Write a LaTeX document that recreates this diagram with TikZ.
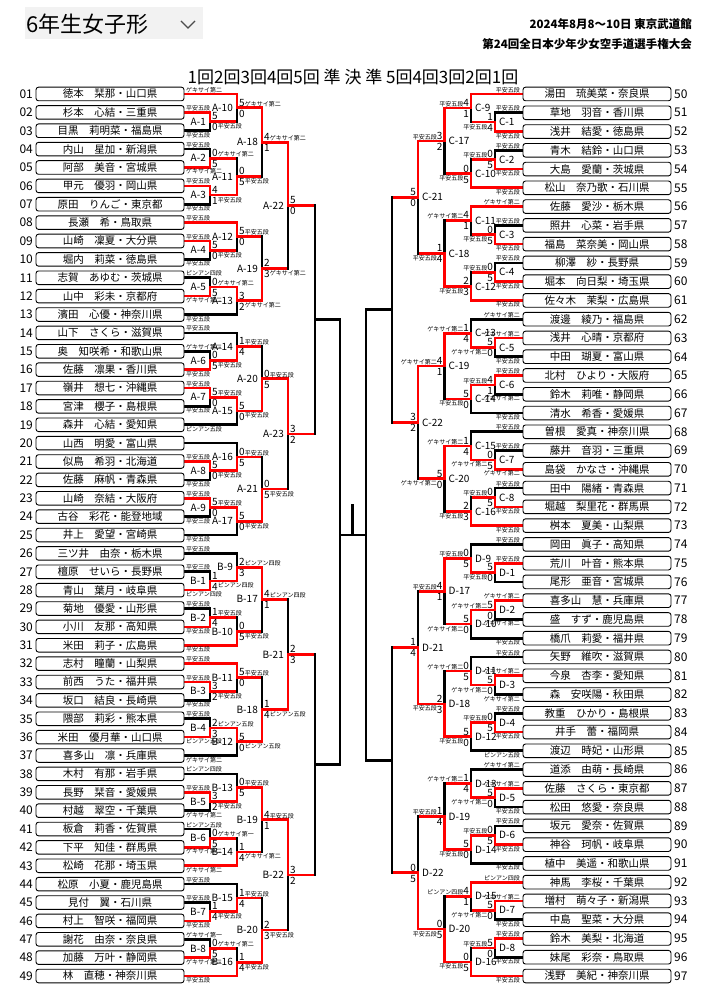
\documentclass[tikz,border=0pt]{standalone}
\usepackage{fontspec}
\setmainfont{Noto Sans CJK JP}
\usetikzlibrary{calc}
\pgfdeclarelayer{bg}
\pgfsetlayers{bg,main}

\newcommand\nmf{\fontsize{10.5}{12}\selectfont}
\newcommand\nuf{\fontsize{12}{14}\selectfont}
\newcommand\scf{\fontsize{10}{11}\selectfont}
\newcommand\ktf{\fontsize{6}{7}\selectfont}
\newcommand\ka[1]{{\ktf #1}}
\newcommand\kb[1]{\raisebox{2.3pt}{\ktf #1}}

\def\firstof#1#2\relax{#1}
\long\def\takefirst#1#2{#1}
\long\def\takesecond#1#2{#2}
\newcommand\isentry[1]{\edef\tmpa{\expandafter\firstof#1\relax}%
  \if e\tmpa\expandafter\takefirst\else\expandafter\takesecond\fi}
\def\bside{l}

% #1 id, #2 shown name, #3 round, #4 upper, #5 lower, #6 winner, #7 upper score, #8 lower score
\newcommand\bout[8]{%
  \edef\thisc{c\bside#3}%
  \edef\nextc{c\bside\the\numexpr#3+1\relax}%
  \path ($(#4)!0.5!(#5)$) coordinate (h#1);
  \coordinate (#1) at (\thisc |- h#1);
  \coordinate (#1o) at (\nextc |- h#1);
  \if u#6\def\bwin{#4}\def\blos{#5}\else\def\bwin{#5}\def\blos{#4}\fi
  \begin{pgfonlayer}{bg}
    \isentry\blos{\draw[lose] (\blos) -- (\thisc |- \blos) -- (#1);}%
      {\draw[lose] (\thisc |- \blos) -- (#1);}%
    \isentry\bwin{\draw[win] (\bwin) -- (\thisc |- \bwin) -- (#1) -- (#1o);}%
      {\draw[win] (\thisc |- \bwin) -- (#1) -- (#1o);}%
  \end{pgfonlayer}
  \node[scu] (#1a) at (#1) {#7};
  \node[scd] (#1b) at (#1) {#8};
  \node[bname] (#1n) at (#1) {#2};
}

\begin{document}
\begin{tikzpicture}[x=1pt, y=-1pt,
  win/.style={draw=red, line width=2.7pt, line cap=rect, line join=miter},
  lose/.style={draw=black, line width=2.7pt, line cap=rect, line join=miter},
  nbox/.style={draw, rounded corners=2.5pt, line width=0.9pt, fill=white,
    minimum width=148pt, minimum height=13.6pt, inner sep=0pt, font=\nmf},
  numl/.style={anchor=east, inner sep=0pt, font=\nuf, xshift=-2.5pt},
  numr/.style={anchor=west, inner sep=0pt, font=\nuf, xshift=2.5pt}]

\useasboundingbox (0,0) rectangle (707,1000);

% header
\fill[black!5] (25,7) rectangle (203,39);
\node[anchor=west, inner sep=0pt, font=\fontsize{22}{26}\selectfont] (title) at (26,24) {6年生女子形};
\draw[line width=1.2pt, black!70] (181,21) -- (188,28) -- (195,21);
\node[anchor=east, inner sep=0pt, font=\bfseries\fontsize{11.5}{13}\selectfont] (date) at (692,24) {2024年8月8～10日 東京武道館};
\node[anchor=east, inner sep=0pt, font=\bfseries\fontsize{11.5}{13}\selectfont] (meet) at (692,44) {第24回全日本少年少女空手道選手権大会};
\node[inner sep=0pt, font=\fontsize{17}{19}\selectfont] (rounds) at (353,77) {1回2回3回4回5回 準 決 準 5回4回3回2回1回};

\foreach \x [count=\c] in {210,237,262,288,315,340}
  \coordinate (cl\c) at (\x,0);
\foreach \x [count=\c] in {495,471,444.5,418,392,366}
  \coordinate (cr\c) at (\x,0);

% left side
\tikzset{kla/.style={anchor=base west, inner sep=0pt, font=\ktf, xshift=1.5pt, yshift=1.9pt},
  klb/.style={anchor=base west, inner sep=0pt, font=\ktf, xshift=1.5pt, yshift=-6.5pt},
  scu/.style={anchor=base west, inner sep=0pt, font=\scf, xshift=2pt, yshift=1.7pt},
  scd/.style={anchor=base west, inner sep=0pt, font=\scf, xshift=2pt, yshift=-9.3pt},
  bname/.style={anchor=east, inner sep=0pt, font=\scf, xshift=-4pt}}

\foreach \nb/\nm/\kt/\ks [count=\i] in {
  01/徳本　栞那・山口県/ゲキサイ第二/a, 02/杉本　心結・三重県/平安五段/a,
  03/目黒　莉明菜・福島県/平安五段/b, 04/内山　星加・新潟県/平安五段/a,
  05/阿部　美音・宮城県/ゲキサイ第二/b, 06/甲元　優羽・岡山県/平安五段/a,
  07/原田　りんご・東京都/平安五段/b, 08/長瀬　希・鳥取県/平安五段/a,
  09/山崎　凜夏・大分県/平安五段/a, 10/堀内　莉菜・徳島県/平安五段/b,
  11/志賀　あゆむ・茨城県/ピンアン四段/a, 12/山中　彩未・京都府/ゲキサイ第二/b,
  13/濱田　心優・神奈川県/平安五段/b, 14/山下　さくら・滋賀県/平安五段/a,
  15/奥　知咲希・和歌山県/ゲキサイ第二/a, 16/佐藤　凛果・香川県/平安五段/b,
  17/嶺井　想七・沖縄県/平安五段/a, 18/宮津　櫻子・島根県/平安五段/b,
  19/森井　心結・愛知県/ピンアン五段/b, 20/山西　明愛・富山県/-/n,
  21/似鳥　希羽・北海道/平安五段/a, 22/佐藤　麻帆・青森県/平安五段/b,
  23/山崎　奈結・大阪府/平安五段/a, 24/古谷　彩花・能登地域/平安三段/b,
  25/井上　愛望・宮崎県/平安五段/b, 26/三ツ井　由奈・栃木県/平安五段/a,
  27/檀原　せいら・長野県/平安三段/a, 28/青山　葉月・岐阜県/ピンアン四段/b,
  29/菊地　優愛・山形県/平安五段/a, 30/小川　友那・高知県/平安五段/b,
  31/米田　莉子・広島県/平安五段/b, 32/志村　瞳蘭・山梨県/平安五段/a,
  33/前西　うた・福井県/平安五段/a, 34/坂口　結良・長崎県/平安五段/b,
  35/隈部　莉彩・熊本県/平安五段/a, 36/米田　優月華・山口県/ピンアン五段/b,
  37/喜多山　凛・兵庫県/ゲキサイ第二/b, 38/木村　有那・岩手県/ピンアン四段/a,
  39/長野　栞音・愛媛県/平安五段/a, 40/村越　翠空・千葉県/ゲキサイ第二/b,
  41/板倉　莉香・佐賀県/ピンアン五段/a, 42/下平　知佳・群馬県/ゲキサイ第二/b,
  43/松崎　花那・埼玉県/ゲキサイ第二/b, 44/松原　小夏・鹿児島県/平安五段/a,
  45/見付　翼・石川県/平安五段/a, 46/村上　智咲・福岡県/平安五段/b,
  47/謝花　由奈・奈良県/ゲキサイ第一/a, 48/加藤　万叶・静岡県/ゲキサイ第二/b,
  49/林　直穂・神奈川県/平安五段/b}{
  \node[nbox] (p\i) at (110,{94+(\i-1)*18.375}) {\nm};
  \node[numl] (n\i) at (p\i.west) {\nb};
  \coordinate (e\i) at (p\i.east);
  \if a\ks \node[kla] (k\i) at (e\i) {\kt};\fi
  \if b\ks \node[klb] (k\i) at (e\i) {\kt};\fi
}

\bout{A1}{A-1}{1}{e2}{e3}{u}{5}{0\kb{平安五段}}
\bout{A2}{A-2}{1}{e4}{e5}{d}{0\ka{ゲキサイ第二}}{5}
\bout{A3}{A-3}{1}{e6}{e7}{u}{4}{1\kb{平安五段}}
\bout{A4}{A-4}{1}{e9}{e10}{u}{5}{0\kb{平安五段}}
\bout{A5}{A-5}{1}{e11}{e12}{d}{0\ka{ゲキサイ第二}}{5}
\bout{A6}{A-6}{1}{e15}{e16}{d}{0}{5\kb{平安五段}}
\bout{A7}{A-7}{1}{e17}{e18}{u}{5\ka{平安五段}}{0}
\bout{A8}{A-8}{1}{e21}{e22}{u}{5}{0\kb{平安五段}}
\bout{A9}{A-9}{1}{e23}{e24}{u}{5\ka{平安五段}}{0}
\bout{A10}{A-10}{2}{e1}{A1}{u}{5\ka{ゲキサイ第二}}{0}
\bout{A11}{A-11}{2}{A2}{A3}{d}{0}{5\kb{平安五段}}
\bout{A12}{A-12}{2}{e8}{A4}{u}{5\ka{平安五段}}{0}
\bout{A13}{A-13}{2}{A5}{e13}{u}{3}{2\kb{ゲキサイ第二}}
\bout{A14}{A-14}{2}{e14}{A6}{d}{1\ka{平安五段}}{4}
\bout{A15}{A-15}{2}{A7}{e19}{u}{5}{0\kb{平安五段}}
\bout{A16}{A-16}{2}{e20}{A8}{d}{0\ka{平安五段}}{5}
\bout{A17}{A-17}{2}{A9}{e25}{u}{5}{0\kb{平安五段}}
\bout{A18}{A-18}{3}{A10}{A11}{u}{4\ka{ゲキサイ第二}}{1}
\bout{A19}{A-19}{3}{A12}{A13}{d}{2}{3\kb{ゲキサイ第二}}
\bout{A20}{A-20}{3}{A14}{A15}{d}{0\ka{平安五段}}{5}
\bout{A21}{A-21}{3}{A16}{A17}{d}{0}{5\kb{平安五段}}
\bout{A22}{A-22}{4}{A18}{A19}{u}{5}{0}
\bout{A23}{A-23}{4}{A20}{A21}{u}{3}{2}

\bout{B1}{B-1}{1}{e27}{e28}{d}{1}{4\kb{ピンアン四段}}
\bout{B2}{B-2}{1}{e29}{e30}{d}{1\ka{平安五段}}{4}
\bout{B3}{B-3}{1}{e33}{e34}{u}{3}{2\kb{平安五段}}
\bout{B4}{B-4}{1}{e35}{e36}{d}{2\ka{ピンアン五段}}{3}
\bout{B5}{B-5}{1}{e39}{e40}{u}{3}{2\kb{平安五段}}
\bout{B6}{B-6}{1}{e41}{e42}{d}{0\ka{ゲキサイ第一}}{5}
\bout{B7}{B-7}{1}{e45}{e46}{d}{1}{4\kb{平安五段}}
\bout{B8}{B-8}{1}{e47}{e48}{d}{0\ka{ゲキサイ第二}}{5}
\bout{B9}{B-9}{2}{e26}{B1}{d}{2\ka{ピンアン四段}}{3}
\bout{B10}{B-10}{2}{B2}{e31}{d}{0}{5\kb{平安五段}}
\bout{B11}{B-11}{2}{e32}{B3}{u}{5\ka{平安五段}}{0}
\bout{B12}{B-12}{2}{B4}{e37}{u}{5}{0\kb{ピンアン五段}}
\bout{B13}{B-13}{2}{e38}{B5}{d}{0\ka{平安五段}}{5}
\bout{B14}{B-14}{2}{B6}{e43}{d}{1}{4\kb{ゲキサイ第二}}
\bout{B15}{B-15}{2}{e44}{B7}{d}{1\ka{平安五段}}{4}
\bout{B16}{B-16}{2}{B8}{e49}{d}{1}{4\kb{平安五段}}
\bout{B17}{B-17}{3}{B9}{B10}{u}{4\ka{ピンアン四段}}{1}
\bout{B18}{B-18}{3}{B11}{B12}{d}{1}{4\kb{ピンアン五段}}
\bout{B19}{B-19}{3}{B13}{B14}{u}{4\ka{平安五段}}{1}
\bout{B20}{B-20}{3}{B15}{B16}{d}{2}{3\kb{平安五段}}
\bout{B21}{B-21}{4}{B17}{B18}{d}{2}{3}
\bout{B22}{B-22}{4}{B19}{B20}{u}{3}{2}

% right side
\def\bside{r}
\tikzset{kla/.style={anchor=base east, inner sep=0pt, font=\ktf, xshift=-2.5pt, yshift=1.9pt},
  klb/.style={anchor=base east, inner sep=0pt, font=\ktf, xshift=-2.5pt, yshift=-6.5pt},
  scu/.style={anchor=base east, inner sep=0pt, font=\scf, xshift=-2pt, yshift=1.7pt},
  scd/.style={anchor=base east, inner sep=0pt, font=\scf, xshift=-2pt, yshift=-9.3pt},
  bname/.style={anchor=west, inner sep=0pt, font=\scf, xshift=4pt}}

\foreach \nb/\nm/\kt/\ks [count=\i from 50] in {
  50/湯田　琉美菜・奈良県/平安五段/a, 51/草地　羽音・香川県/平安五段/a,
  52/浅井　結愛・徳島県/平安五段/b, 53/青木　結鈴・山口県/平安五段/a,
  54/大島　愛蘭・茨城県/平安五段/b, 55/松山　奈乃歌・石川県/平安五段/b,
  56/佐藤　愛沙・栃木県/ゲキサイ第二/a, 57/照井　心菜・岩手県/平安五段/a,
  58/福島　菜奈美・岡山県/平安五段/b, 59/柳澤　紗・長野県/平安五段/a,
  60/堀本　向日梨・埼玉県/平安五段/b, 61/佐々木　茉梨・広島県/平安五段/b,
  62/渡邊　綾乃・福島県/ゲキサイ第二/a, 63/浅井　心晴・京都府/ゲキサイ第二/a,
  64/中田　瑚夏・富山県/平安五段/b, 65/北村　ひより・大阪府/平安五段/a,
  66/鈴木　莉唯・静岡県/ゲキサイ第二/b, 67/清水　希香・愛媛県/平安五段/b,
  68/曽根　愛真・神奈川県/平安五段/a, 69/藤井　音羽・三重県/平安五段/a,
  70/島袋　かなさ・沖縄県/ゲキサイ第二/b, 71/田中　陽緒・青森県/平安五段/a,
  72/堀越　梨里花・群馬県/平安五段/b, 73/桝本　夏美・山梨県/平安五段/b,
  74/岡田　眞子・高知県/平安五段/a, 75/荒川　叶音・熊本県/平安五段/a,
  76/尾形　亜音・宮城県/-/n, 77/喜多山　慧・兵庫県/ゲキサイ第二/a,
  78/盛　すず・鹿児島県/ゲキサイ第二/b, 79/橋爪　莉愛・福井県/平安五段/b,
  80/矢野　維吹・滋賀県/平安五段/a, 81/今泉　杏李・愛知県/ゲキサイ第二/a,
  82/森　安咲陽・秋田県/ゲキサイ第二/b, 83/教重　ひかり・島根県/平安五段/a,
  84/井手　蕾・福岡県/平安五段/b, 85/渡辺　時妃・山形県/ピンアン五段/b,
  86/道添　由萌・長崎県/ゲキサイ第二/a, 87/佐藤　さくら・東京都/ゲキサイ第二/a,
  88/松田　悠愛・奈良県/平安五段/b, 89/坂元　愛奈・佐賀県/平安五段/a,
  90/神谷　珂帆・岐阜県/平安五段/b, 91/植中　美遥・和歌山県/平安五段/b,
  92/神馬　李桜・千葉県/ピンアン四段/a, 93/増村　萌々子・新潟県/ゲキサイ第二/a,
  94/中島　聖菜・大分県/平安五段/b, 95/鈴木　美梨・北海道/平安五段/a,
  96/妹尾　彩奈・鳥取県/平安五段/b, 97/浅野　美紀・神奈川県/平安五段/b}{
  \node[nbox] (p\i) at (597,{94+(\i-50)*18.766}) {\nm};
  \node[numr] (n\i) at (p\i.east) {\nb};
  \coordinate (e\i) at (p\i.west);
  \if a\ks \node[kla] (k\i) at (e\i) {\kt};\fi
  \if b\ks \node[klb] (k\i) at (e\i) {\kt};\fi
}

\bout{C1}{C-1}{1}{e51}{e52}{d}{1}{\kb{平安五段}4}
\bout{C2}{C-2}{1}{e53}{e54}{d}{\ka{平安五段}0}{5}
\bout{C3}{C-3}{1}{e57}{e58}{d}{0}{\kb{平安五段}5}
\bout{C4}{C-4}{1}{e59}{e60}{d}{\ka{平安五段}0}{5}
\bout{C5}{C-5}{1}{e63}{e64}{u}{5}{\kb{ゲキサイ第二}0}
\bout{C6}{C-6}{1}{e65}{e66}{u}{\ka{平安五段}4}{1}
\bout{C7}{C-7}{1}{e69}{e70}{d}{0}{\kb{ゲキサイ第二}5}
\bout{C8}{C-8}{1}{e71}{e72}{d}{\ka{平安五段}0}{5}
\bout{C9}{C-9}{2}{e50}{C1}{u}{\ka{平安五段}4}{1}
\bout{C10}{C-10}{2}{C2}{e55}{d}{0}{\kb{平安五段}5}
\bout{C11}{C-11}{2}{e56}{C3}{u}{\ka{ゲキサイ第二}4}{1}
\bout{C12}{C-12}{2}{C4}{e61}{d}{2}{\kb{平安五段}3}
\bout{C13}{C-13}{2}{e62}{C5}{d}{\ka{ゲキサイ第二}1}{4}
\bout{C14}{C-14}{2}{C6}{e67}{u}{5}{\kb{平安五段}0}
\bout{C15}{C-15}{2}{e68}{C7}{d}{\ka{ゲキサイ第二}1}{4}
\bout{C16}{C-16}{2}{C8}{e73}{d}{2}{\kb{平安五段}3}
\bout{C17}{C-17}{3}{C9}{C10}{u}{\ka{平安五段}3}{2}
\bout{C18}{C-18}{3}{C11}{C12}{d}{1}{\kb{平安五段}4}
\bout{C19}{C-19}{3}{C13}{C14}{u}{\ka{ゲキサイ第二}4}{1}
\bout{C20}{C-20}{3}{C15}{C16}{u}{5}{\kb{ゲキサイ第二}0}
\bout{C21}{C-21}{4}{C17}{C18}{u}{5}{0}
\bout{C22}{C-22}{4}{C19}{C20}{u}{3}{2}

\bout{D1}{D-1}{1}{e75}{e76}{u}{5}{\kb{平安五段}0}
\bout{D2}{D-2}{1}{e77}{e78}{u}{\ka{ゲキサイ第二}5}{0}
\bout{D3}{D-3}{1}{e81}{e82}{u}{5}{\kb{ゲキサイ第二}0}
\bout{D4}{D-4}{1}{e83}{e84}{d}{\ka{平安五段}0}{5}
\bout{D5}{D-5}{1}{e87}{e88}{u}{5}{\kb{ゲキサイ第二}0}
\bout{D6}{D-6}{1}{e89}{e90}{d}{\ka{平安五段}0}{5}
\bout{D7}{D-7}{1}{e93}{e94}{u}{5}{\kb{ゲキサイ第二}0}
\bout{D8}{D-8}{1}{e95}{e96}{u}{\ka{平安五段}5}{0}
\bout{D9}{D-9}{2}{e74}{D1}{d}{\ka{平安五段}0}{5}
\bout{D10}{D-10}{2}{D2}{e79}{u}{5}{\kb{ゲキサイ第二}0}
\bout{D11}{D-11}{2}{e80}{D3}{d}{\ka{ゲキサイ第二}0}{5}
\bout{D12}{D-12}{2}{D4}{e85}{u}{5}{\kb{平安五段}0}
\bout{D13}{D-13}{2}{e86}{D5}{d}{\ka{ゲキサイ第二}1}{4}
\bout{D14}{D-14}{2}{D6}{e91}{u}{5}{\kb{平安五段}0}
\bout{D15}{D-15}{2}{e92}{D7}{u}{\ka{ピンアン四段}4}{1}
\bout{D16}{D-16}{2}{D8}{e97}{d}{0}{\kb{平安五段}5}
\bout{D17}{D-17}{3}{D9}{D10}{u}{\ka{平安五段}4}{1}
\bout{D18}{D-18}{3}{D11}{D12}{d}{2}{\kb{平安五段}3}
\bout{D19}{D-19}{3}{D13}{D14}{d}{\ka{平安五段}1}{4}
\bout{D20}{D-20}{3}{D15}{D16}{d}{0}{\kb{平安五段}5}
\bout{D21}{D-21}{4}{D17}{D18}{d}{1}{4}
\bout{D22}{D-22}{4}{D19}{D20}{d}{0}{5}

% block finals, semis, final
\path ($(A22o)!0.5!(A23o)$) coordinate (Afin);
\path ($(B21o)!0.5!(B22o)$) coordinate (Bfin);
\path ($(C21o)!0.5!(C22o)$) coordinate (Cfin);
\path ($(D21o)!0.5!(D22o)$) coordinate (Dfin);
\path ($(Cfin)!0.5!(Dfin)$) coordinate (fin);
\coordinate (tick) at (352.7,505);
\begin{pgfonlayer}{bg}
\draw[lose] (A22o) -- (A23o) (Afin) -- (cl6 |- Afin);
\draw[lose] (B21o) -- (B22o) (Bfin) -- (cl6 |- Bfin);
\draw[lose] (C21o) -- (C22o) (Cfin) -- (cr6 |- Cfin);
\draw[lose] (D21o) -- (D22o) (Dfin) -- (cr6 |- Dfin);
\draw[lose] (cl6 |- Afin) -- (cl6 |- Bfin);
\draw[lose] (cr6 |- Cfin) -- (cr6 |- Dfin);
\draw[lose] (cl6 |- fin) -- (cr6 |- fin);
\draw[lose] (tick) -- (tick |- fin);
\end{pgfonlayer}
\end{tikzpicture}
\end{document}
